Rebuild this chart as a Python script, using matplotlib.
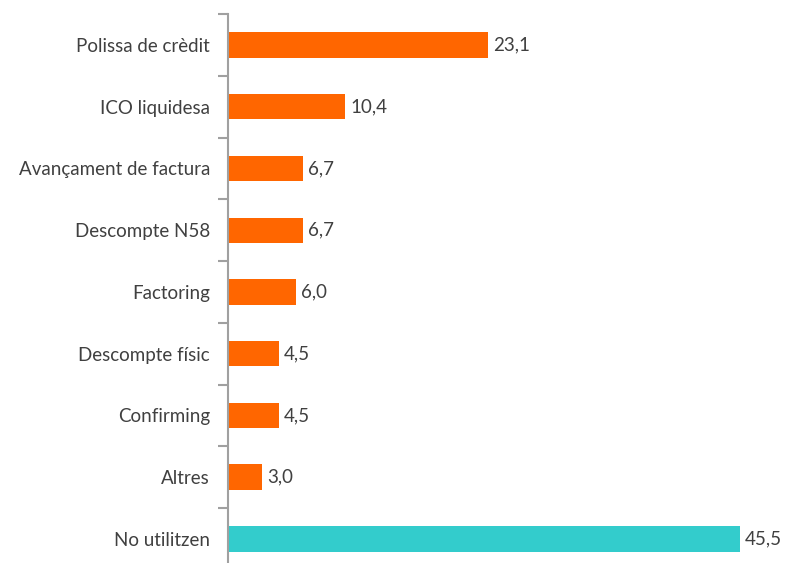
import matplotlib.pyplot as plt
import numpy as np

categories = ["Polissa de crèdit", "ICO liquidesa", "Avançament de factura",
              "Descompte N58", "Factoring", "Descompte físic", "Confirming",
              "Altres", "No utilitzen"]
values = [23.1, 10.4, 6.7, 6.7, 6.0, 4.5, 4.5, 3.0, 45.5]
colors = ["#FF6600"] * 8 + ["#33CCCC"]

plt.rcParams["font.family"] = ["Lato", "DejaVu Sans"]

fig = plt.figure(figsize=(7.85, 5.63), dpi=100)
ax = fig.add_axes([228 / 785, -0.012, 0.99 - 228 / 785, 0.987])

y = np.arange(len(categories))
ax.barh(y, values, height=0.41, color=colors)
ax.set_ylim(len(categories) - 0.5, -0.5)
ax.set_xlim(0, 48.8)

for yi, v in zip(y, values):
    ax.text(v + 0.45, yi, f"{v:.1f}".replace(".", ","), va="center", ha="left",
            fontsize=13.5, color="#404040")

ax.set_yticks(y)
ax.set_yticklabels(categories, fontsize=13.5, color="#404040")
ax.set_yticks(np.arange(len(categories) + 1) - 0.5, minor=True)
ax.tick_params(axis="y", which="major", length=0, pad=13)
ax.tick_params(axis="y", which="minor", length=7, width=1.5, color="#A0A0A0")
ax.set_xticks([])
for s in ["top", "right", "bottom"]:
    ax.spines[s].set_visible(False)
ax.spines["left"].set_color("#A0A0A0")
ax.spines["left"].set_linewidth(1.5)

fig.savefig("out.png", dpi=100)
